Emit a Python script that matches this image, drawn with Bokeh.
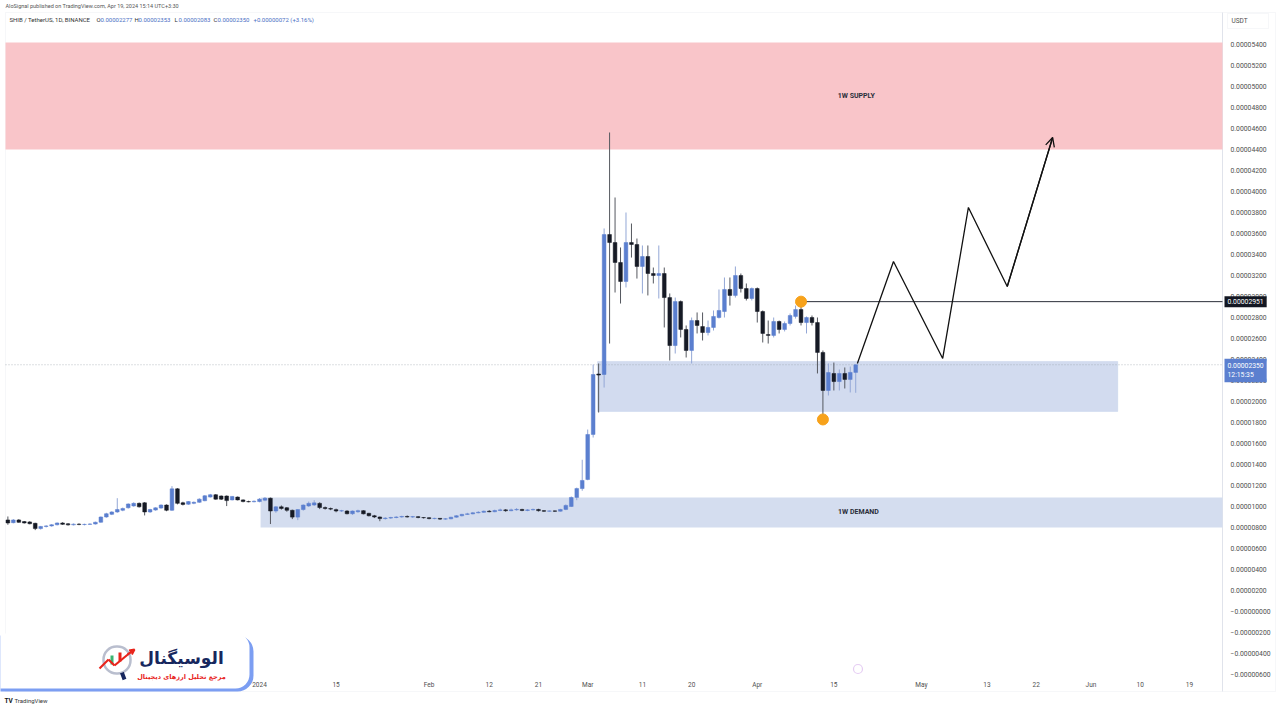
import numpy as np
from bokeh.plotting import figure
from bokeh.models import Range1d, BoxAnnotation, Label, Arrow, OpenHead, ColumnDataSource
from bokeh.core.properties import value
from bokeh.embed import file_html
from bokeh.resources import INLINE

# ---------------- data (prices in units of 1e-8 USDT, days relative to 2024-01-01) -------------
START_DAY = -46
OPEN = [872, 846, 872, 856, 853, 840, 790, 810, 815, 826, 843, 835, 825, 832, 828, 830, 833, 850, 900, 925,
        948, 964, 988, 1005, 1030, 1035, 948, 966, 985, 1014, 964, 1168, 1035, 1022, 1030, 1040, 1055, 1090, 1112, 1100,
        1100, 1063, 1090, 1063, 1047, 1045,
        1047, 1060, 1079, 957, 997, 988, 964, 899, 971, 1005, 1014, 1030, 990, 981, 970, 957, 957, 931, 950, 960,
        935, 912, 900, 885, 890, 895, 900, 905, 900, 903, 895, 893, 885, 887, 880, 883, 898, 912, 925, 930,
        940, 945, 955, 950, 962, 968, 960, 968, 972, 962, 968, 972, 960, 955, 958, 955, 972, 1000, 1086, 1171,
        1257, 1686, 2262, 2257, 3590, 3514, 3324, 3143, 3514, 3495, 3286, 3381, 3219, 3200, 3219, 2990, 2533, 2952, 2686, 2486,
        2771, 2714, 2657, 2705, 2800, 2857, 3067, 3010, 3200, 3076, 2981, 3076, 2857, 2638, 2629, 2762, 2686, 2743, 2810, 2876,
        2752, 2800, 2752, 2467, 2105, 2267, 2190, 2267, 2210, 2277]
HIGH = [905, 880, 880, 862, 860, 845, 815, 822, 832, 848, 850, 842, 838, 840, 836, 840, 856, 905, 940, 955,
        1079, 990, 1030, 1040, 1038, 1042, 978, 992, 1020, 1020, 1194, 1175, 1045, 1052, 1048, 1078, 1108, 1120, 1118, 1105,
        1105, 1100, 1095, 1068, 1055, 1058,
        1080, 1090, 1085, 1005, 1010, 995, 970, 975, 1020, 1047, 1060, 1040, 1000, 990, 980, 968, 965, 962, 970, 965,
        940, 920, 905, 898, 902, 908, 912, 915, 910, 908, 900, 898, 893, 890, 890, 902, 918, 930, 940, 948,
        955, 962, 965, 970, 980, 975, 980, 985, 978, 975, 980, 978, 965, 962, 962, 978, 1020, 1095, 1180, 1445,
        1733, 2352, 2362, 3648, 4562, 3943, 3467, 3800, 3695, 3552, 3486, 3486, 3276, 3486, 3276, 3029, 2990, 2962, 2724, 2800,
        2848, 2848, 2771, 2867, 3067, 3181, 3181, 3286, 3219, 3124, 3086, 3086, 2867, 2771, 2800, 2771, 2762, 2838, 2914, 2951,
        2810, 2819, 2800, 2486, 2362, 2371, 2305, 2324, 2333, 2353]
LOW = [826, 840, 845, 838, 830, 775, 780, 800, 808, 820, 825, 818, 820, 822, 820, 825, 828, 845, 893, 918,
       940, 955, 980, 998, 990, 915, 940, 960, 978, 955, 958, 1020, 1010, 1015, 1022, 1035, 1050, 1085, 1065, 1062,
       1004, 1058, 1058, 1040, 1040, 1040,
       1040, 1050, 833, 940, 970, 950, 880, 870, 960, 995, 1005, 975, 970, 965, 945, 948, 925, 920, 940, 925,
       905, 890, 860, 875, 882, 888, 893, 895, 892, 888, 885, 878, 878, 872, 874, 878, 893, 905, 920, 925,
       935, 940, 945, 945, 955, 950, 955, 960, 955, 955, 962, 952, 948, 950, 948, 950, 965, 995, 1060, 1150,
       1250, 1657, 1895, 2133, 2552, 3038, 2933, 3086, 3371, 3171, 3029, 3010, 3124, 2981, 2705, 2390, 2457, 2610, 2419, 2362,
       2648, 2581, 2629, 2676, 2790, 2800, 2914, 2990, 3038, 2962, 2962, 2752, 2562, 2552, 2610, 2648, 2667, 2724, 2790, 2724,
       2648, 2724, 2267, 1829, 2057, 2105, 2105, 2124, 2086, 2083]
CLOSE = [843, 872, 849, 843, 836, 790, 810, 815, 826, 843, 830, 825, 832, 828, 830, 833, 850, 900, 931, 948,
         971, 981, 1024, 1030, 997, 948, 971, 987, 1014, 964, 1168, 1030, 1020, 1047, 1040, 1070, 1102, 1112, 1070, 1070,
         1056, 1096, 1063, 1047, 1045, 1050,
         1070, 1079, 957, 997, 981, 964, 899, 971, 1014, 1030, 1035, 990, 981, 975, 957, 960, 931, 957, 960, 930,
         912, 900, 885, 890, 895, 900, 905, 900, 903, 895, 893, 885, 887, 880, 883, 898, 912, 925, 930, 940,
         945, 955, 950, 962, 968, 960, 968, 972, 962, 968, 972, 960, 955, 958, 955, 972, 1010, 1086, 1171, 1248,
         1686, 2257, 2252, 3590, 3514, 3324, 3143, 3514, 3495, 3286, 3381, 3219, 3200, 3219, 2990, 2533, 2952, 2686, 2486, 2771,
         2724, 2657, 2705, 2810, 2867, 3067, 3010, 3200, 3076, 2981, 3076, 2857, 2648, 2629, 2762, 2686, 2743, 2819, 2876, 2752,
         2800, 2752, 2467, 2105, 2276, 2190, 2267, 2210, 2277, 2350]

SUPPLY_ZONE = dict(top=5420, bottom=4400)                     # "1W SUPPLY"
DEMAND_ZONE = dict(left=0.2, top=1086, bottom=800)            # "1W DEMAND"
LOCAL_ZONE = dict(left=61.8, right=156.9, top=2381, bottom=1905)
LEVEL_DAY, LEVEL_PRICE = 99, 2951                             # swing high level
SWING_LOW_DAY, SWING_LOW_PRICE = 103, 1829
LAST_PRICE = 2350
PROJ_DAY = [109.3, 115.9, 124.9, 129.6, 136.7, 145.0]
PROJ_PRICE = [2362, 3333, 2410, 3848, 3095, 4514]

X_TICK_DAYS = [0, 14, 31, 42, 51, 60, 70, 79, 91, 105, 121, 133, 142, 152, 161, 170]
X_TICK_LABELS = ["2024", "15", "Feb", "12", "21", "Mar", "11", "20", "Apr", "15", "May", "13", "22", "Jun", "10", "19"]
Y_TICKS = list(range(-600, 5401, 200))

# ---------------- geometry (page pixels) ----------------
W, H = 1280, 720
PX_PER_DAY, DAY0_PX = 5.47, 259.0          # x pixel of 2024-01-01
PX_PER_UNIT, REF_PRICE, REF_PX = 1 / 9.524, 2000.0, 401.0
CH_L, CH_R, CH_T, CH_B = 5, 1222, 12, 677   # chart pane


def day_at(px):
    return (px - DAY0_PX) / PX_PER_DAY


def price_at(py):
    return REF_PRICE + (REF_PX - py) / PX_PER_UNIT


LEFT_DAY, RIGHT_DAY = day_at(CH_L), day_at(CH_R)
BOTTOM_PRICE = price_at(CH_B)

UP, DOWN = "#5b7fcf", "#161a25"
FONT = "Roboto"

p = figure(width=W, height=H, output_backend="svg", toolbar_location=None,
           x_range=Range1d(day_at(0), day_at(W)), y_range=Range1d(price_at(H), price_at(0)),
           x_axis_location=None, y_axis_location=None,
           min_border=0, min_border_left=0, min_border_right=0, min_border_top=0, min_border_bottom=0)
p.xgrid.visible = False
p.ygrid.visible = False
p.outline_line_color = None
p.background_fill_color = "white"
p.border_fill_color = "white"


def sy(Y):
    return H - Y


def box(l, r, t, b, **kw):
    opts = dict(left=l, right=r, top=sy(t), bottom=sy(b), left_units="screen", right_units="screen",
                top_units="screen", bottom_units="screen", level="overlay")
    opts.update(kw)
    p.add_layout(BoxAnnotation(**opts))


def slabel(X, Y, text, **kw):
    opts = dict(x=X, y=sy(Y), x_units="screen", y_units="screen", text=text, text_font=FONT,
                text_font_size="6px", text_color="#333333", text_baseline="middle", level="overlay")
    opts.update(kw)
    p.add_layout(Label(**opts))


def seg(x0, y0, x1, y1, color, width, end=None, level="overlay"):
    p.add_layout(Arrow(x_start=x0, y_start=sy(y0), x_end=x1, y_end=sy(y1), start_units="screen",
                       end_units="screen", end=end, line_color=color, line_width=width, level=level))


# pane borders
box(CH_L, 1275, CH_T, 691, fill_color=None, line_color="#e0e3eb", line_width=1, level="underlay")
seg(CH_R, CH_T, CH_R, 691, "#e0e3eb", 1, level="underlay")

# zones
p.add_layout(BoxAnnotation(left=LEFT_DAY, right=RIGHT_DAY, top=SUPPLY_ZONE["top"], bottom=SUPPLY_ZONE["bottom"],
                           fill_color="#f9c5c9", fill_alpha=1, line_color=None, level="underlay"))
p.add_layout(BoxAnnotation(left=DEMAND_ZONE["left"], right=RIGHT_DAY, top=DEMAND_ZONE["top"],
                           bottom=DEMAND_ZONE["bottom"], fill_color="#d4ddef", fill_alpha=1, line_color=None,
                           level="underlay"))
p.add_layout(BoxAnnotation(left=LOCAL_ZONE["left"], right=LOCAL_ZONE["right"], top=LOCAL_ZONE["top"],
                           bottom=LOCAL_ZONE["bottom"], fill_color="#d2dbef", fill_alpha=1,
                           line_color="#b3c2e3", line_width=1, level="underlay"))
p.segment(x0=[LEFT_DAY], x1=[RIGHT_DAY], y0=[LAST_PRICE], y1=[LAST_PRICE], line_color="#9aa0ab",
          line_width=0.7, line_dash="1 2")

# candles
o = np.array(OPEN, float); h = np.array(HIGH, float); l = np.array(LOW, float); c = np.array(CLOSE, float)
days = np.arange(START_DAY, START_DAY + len(o))
up = c >= o
src = ColumnDataSource(dict(x=days, top=np.maximum(o, c), bottom=np.minimum(o, c), high=h, low=l,
                            color=np.where(up, UP, DOWN), wick=np.where(up, "#93a7d6", "#55585f")))
p.segment(x0="x", x1="x", y0="low", y1="high", line_color="wick", line_width=1, source=src)
p.vbar(x="x", width=0.68, top="top", bottom="bottom", fill_color="color", line_color="color",
       line_width=0.5, source=src)

# level line and swing points
p.segment(x0=[LEVEL_DAY], x1=[RIGHT_DAY], y0=[LEVEL_PRICE], y1=[LEVEL_PRICE], line_color="#2a2e39", line_width=1)
p.scatter(x=[LEVEL_DAY, SWING_LOW_DAY], y=[LEVEL_PRICE, SWING_LOW_PRICE], size=11,
          fill_color="#f7a21b", line_color="#f7a21b")

# projection path
p.line(PROJ_DAY, PROJ_PRICE, line_color="#111111", line_width=1.3)
p.add_layout(Arrow(end=OpenHead(size=9, line_color="#111111", line_width=1.3),
                   x_start=PROJ_DAY[-2], y_start=PROJ_PRICE[-2], x_end=PROJ_DAY[-1], y_end=PROJ_PRICE[-1],
                   line_color="#111111", line_width=1.3))

# zone labels
p.add_layout(Label(x=109.1, y=4914, text="1W SUPPLY", text_align="center", text_baseline="middle",
                   text_font=FONT, text_font_size="7px", text_font_style="bold", text_color="#2a2e39"))
p.add_layout(Label(x=109.5, y=943, text="1W DEMAND", text_align="center", text_baseline="middle",
                   text_font=FONT, text_font_size="7px", text_font_style="bold", text_color="#2a2e39"))

# ---------------- axes (drawn through the scales) ----------------
y_text = [("\u2212" if v <= 0 else "") + f"{abs(v) / 1e8:.8f}" for v in Y_TICKS]
p.text(x=[RIGHT_DAY] * len(Y_TICKS), y=Y_TICKS, text=y_text, x_offset=8, text_baseline="middle",
       text_align="left", text_font=value(FONT), text_font_size="6.8px", text_color="#505050")
p.text(x=X_TICK_DAYS, y=[BOTTOM_PRICE] * len(X_TICK_DAYS), text=X_TICK_LABELS, y_offset=7,
       text_baseline="middle", text_align="center", text_font=value(FONT), text_font_size="6.5px",
       text_color="#505050")

# price tags on the axis
p.add_layout(Label(x=1224, y=LEVEL_PRICE, x_units="screen", text="0.00002951", text_baseline="middle",
                   text_font=FONT, text_font_size="6.8px", text_color="white",
                   background_fill_color="#131722", padding=3, level="overlay"))
p.add_layout(Label(x=1224, y=LAST_PRICE, x_units="screen", text="0.00002350\n12:15:35",
                   text_baseline="top", text_font=FONT, text_font_size="6.8px", text_color="white",
                   background_fill_color="#5b7fcf", padding=3, y_offset=6, level="overlay"))

# USDT box
box(1227, 1268, 13, 28, fill_color="white", fill_alpha=1, line_color="#e0e3eb", line_width=1)
slabel(1231, 20.5, "USDT", text_font_size="6.5px", text_color="#505050")

# header texts
slabel(5, 5, "AloSignal published on TradingView.com, Apr 19, 2024 15:14 UTC+3:30",
       text_font_size="5.5px", text_color="#555555")
slabel(9, 19, "SHIB / TetherUS, 1D, BINANCE", text_color="#333333")
for X, letter, val in [(96, "O", "0.00002277"), (134, "H", "0.00002353"), (174, "L", "0.00002083"),
                       (213, "C", "0.00002350")]:
    slabel(X, 19, letter, text_color="#333333")
    slabel(X + 4, 19, val, text_color="#4a6fc4")
slabel(253, 19, "+0.00000072 (+3.16%)", text_color="#4a6fc4")

# footer
slabel(4, 700, "TV", text_font_size="6.5px", text_font_style="bold", text_color="#131722")
slabel(14, 700, "TradingView", text_font_size="6px", text_color="#333333")

# small ideas icon
box(853, 862, 664, 673, fill_color="white", line_color="#a85bd6", line_width=1.2, border_radius=5)

# logo card
box(-30, 253, 635, 691, fill_color="#7c9ef2", fill_alpha=1, line_color=None, border_radius=16)
box(-30, 249, 633, 688, fill_color="white", fill_alpha=1, line_color=None, border_radius=14)
seg(121, 671, 124, 679, "#17275e", 4)
box(103, 130, 646, 673, fill_color="white", fill_alpha=1, line_color="#17275e", line_width=2.5, border_radius=13)
box(110, 113, 655, 664, fill_color="#3cb371", fill_alpha=1, line_color=None)
box(118, 121, 652, 661, fill_color="#e8241c", fill_alpha=1, line_color=None)
for (x0, y0, x1, y1) in [(99, 668, 108, 659), (108, 659, 114, 665), (114, 665, 131, 651)]:
    seg(x0, y0, x1, y1, "#e8241c", 2.2)
seg(127, 654, 134, 649, "#e8241c", 2, end=OpenHead(size=5, line_color="#e8241c", line_width=2))
slabel(181, 657, "الوسیگنال", text_font="DejaVu Sans", text_font_size="17px", text_font_style="bold",
       text_color="#17275e", text_align="center")
slabel(181, 676, "مرجع تحلیل ارزهای دیجیتال", text_font="DejaVu Sans", text_font_size="6.5px",
       text_font_style="bold", text_color="#e8241c", text_align="center")

open("out.html", "w").write(file_html(p, INLINE))
